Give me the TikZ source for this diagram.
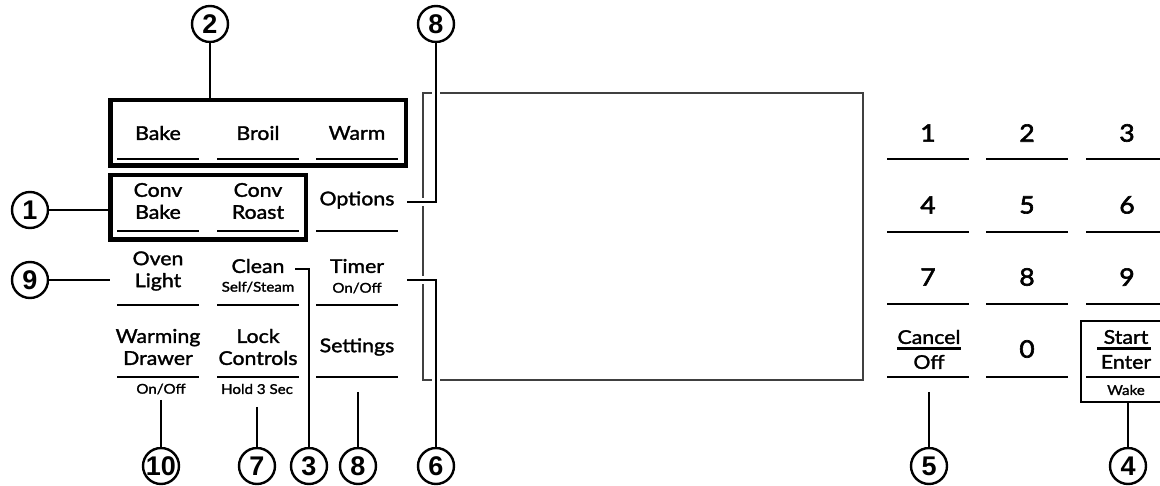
\documentclass[tikz,border=0pt]{standalone}
\usepackage{fontspec}
\setmainfont{Lato}[FakeStretch=1.12,FakeBold=1.6]
\newfontfamily\digitfont{Lato}[FakeStretch=1.1,FakeBold=2.6]
\newfontfamily\callfont{Liberation Sans}
\usetikzlibrary{calc}

\begin{document}
\begin{tikzpicture}[x=1pt,y=-1pt,every text node part/.style={align=center}]
		\tikzstyle{key}=[inner sep=0pt, font=\fontsize{19}{22}\selectfont]
		\tikzstyle{sub}=[inner sep=0pt, font=\fontsize{13.5}{15}\selectfont]
		\tikzstyle{digit}=[inner sep=0pt, font=\digitfont\fontsize{24}{28}\selectfont]
		\tikzstyle{callout}=[circle,draw,line width=2.4pt,minimum size=36pt,
                  inner sep=0pt,fill=white,font=\callfont\bfseries\fontsize{27}{27}\selectfont]
		\tikzstyle{keyline}=[line width=2.4pt]
		\tikzstyle{grpbox}=[rectangle,draw,line width=4.5pt]
		\tikzstyle{leader}=[line width=2.4pt,preaction={draw=white,line width=8pt}]

		\useasboundingbox (0,0) rectangle (1160,486);

		% display window
		\draw[line width=1.3pt,black!75] (423,93) rectangle (863,380);

		% group boxes
		\node[grpbox,minimum width=295.5pt,minimum height=65.5pt] (modes) at (258,133) {};
		\node[grpbox,minimum width=195.5pt,minimum height=64.5pt] (conv) at (208,207.5) {};

		% pad keys
		\foreach \x in {158,258,357}
			\foreach \y in {159,231,305,377}
				\draw[keyline] (\x-41,\y) -- (\x+41,\y);

		\foreach \name/\x/\txt in {bake/158/Bake, broil/258/Broil, warm/357/Warm}
			\node[key] (\name) at (\x,133) {\txt};

		\node[key] (convbake) at (158,201) {Conv\\Bake};
		\node[key] (convroast) at (258,201) {Conv\\Roast};
		\node[key] (options) at (357,200) {Options};

		\node[key] (ovenlight) at (158,271) {Oven\\Light};
		\node[key] (clean) at (258,266) {Clean};
		\node[sub] (selfsteam) at (258,287) {Self/Steam};
		\node[key] (timer) at (357,266) {Timer};
		\node[sub] (timeroff) at (357,288) {On/Off};

		\node[key] (warming) at (158,347) {Warming\\Drawer};
		\node[key] (lock) at (258,347) {Lock\\Controls};
		\node[key] (settings) at (357,347) {Settings};
		\node[sub] (draweroff) at (161,389) {On/Off};
		\node[sub] (hold) at (257,389) {Hold 3 Sec};

		% number keys
		\foreach \x in {928,1027,1127}
			\foreach \y in {159,232,304,377}
				\draw[keyline] (\x-41,\y) -- (\x+41,\y);

		\foreach \d/\x/\y in {1/928/133, 2/1027/133, 3/1127/133,
		                      4/928/205, 5/1027/205, 6/1127/205,
		                      7/928/277, 8/1027/277, 9/1127/277, 0/1027/349}
			\node[digit] (k\d) at (\x,\y) {\d};

		\node[key] (cancel) at (929,337) {Cancel};
		\node[key] (off) at (929,362) {Off};
		\draw[line width=3pt] ([yshift=-4pt]cancel.south west) -- ([yshift=-4pt]cancel.south east);

		\node[draw,line width=1.2pt,minimum width=94pt,minimum height=81pt] (startbox) at (1128,361.5) {};
		\node[key] (start) at (1126,337) {Start};
		\node[key] (enter) at (1126,362) {Enter};
		\node[sub] (wake) at (1126,390) {Wake};
		\draw[line width=3pt] ([xshift=-6pt,yshift=-4pt]start.south west) -- ([xshift=2pt,yshift=-4pt]start.south east);

		% callouts
		\foreach \name/\x/\y/\n in {c1/30/210/1, c9/30/280/9, c2/210/24/2, c8a/436/24/8,
		                            c10/161/466/10, c7/257/466/7, c3/309/466/3, c8b/358/466/8,
		                            c6/436/466/6, c5/929/466/5, c4/1128/466/4}
			\node[callout] (\name) at (\x,\y) {\n};

		\coordinate (t9) at (110,280);
		\coordinate (t8a) at (407,202);
		\coordinate (t3) at (295,269);
		\coordinate (t6) at (407,280);
		\coordinate (t10) at (161,400);
		\coordinate (t7) at (257,407);
		\coordinate (t8b) at (358,392);
		\coordinate (t5) at (929,392);

		% leaders
		\draw[leader] (c1.east) -- (c1 -| conv.west);
		\draw[leader] (c9.east) -- (t9);
		\draw[leader] (c2.south) -- (c2 |- modes.north);
		\draw[leader] (c8a.south) |- (t8a);
		\draw[leader] (t3) -| (c3.north);
		\draw[leader] (t6) -| (c6.north);
		\draw[leader] (t10) -- (c10.north);
		\draw[leader] (t7) -- (c7.north);
		\draw[leader] (t8b) -- (c8b.north);
		\draw[leader] (t5) -- (c5.north);
		\draw[leader] (startbox.south) -- (c4.north);

	\end{tikzpicture}
\end{document}
